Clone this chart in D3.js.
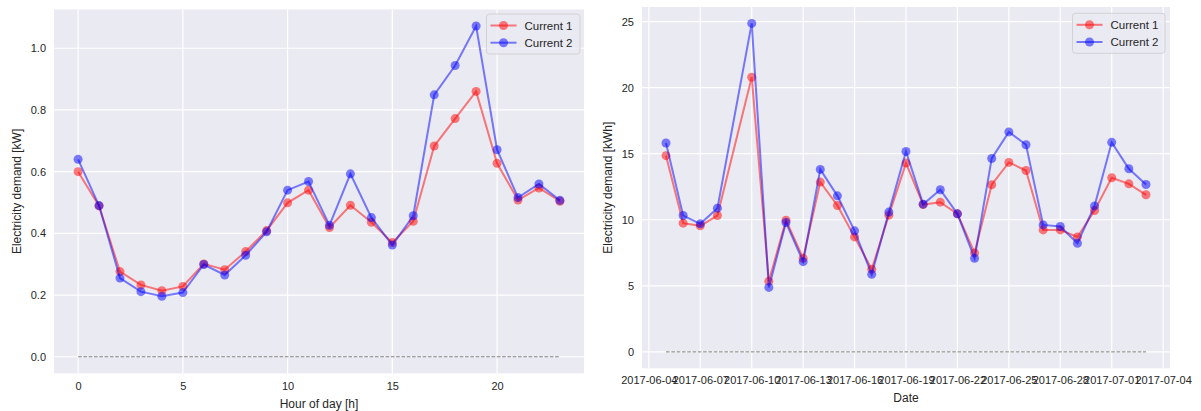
<!DOCTYPE html>
<html>
<head>
<meta charset="utf-8">
<script src="https://cdn.jsdelivr.net/npm/d3@7"></script>
<style>
  body { margin: 0; background: #fff; }
  svg { display: block; font-family: "Liberation Sans", Arial, sans-serif; }
</style>
</head>
<body>
<svg id="chart" width="1201" height="411"></svg>
<script>
// left panel: mean daily profile
var hours = d3.range(24);
var hourCurrent1 = [0.600, 0.489, 0.276, 0.233, 0.214, 0.228, 0.301, 0.282, 0.341, 0.409,
                    0.499, 0.540, 0.419, 0.491, 0.436, 0.370, 0.439, 0.683, 0.772, 0.860,
                    0.627, 0.508, 0.547, 0.504];
var hourCurrent2 = [0.640, 0.490, 0.255, 0.211, 0.196, 0.208, 0.299, 0.265, 0.329, 0.405,
                    0.540, 0.568, 0.426, 0.593, 0.451, 0.362, 0.457, 0.849, 0.944, 1.072,
                    0.671, 0.516, 0.560, 0.507];
var hourTicks = [0, 5, 10, 15, 20];
var kwTicks = [0.0, 0.2, 0.4, 0.6, 0.8, 1.0];

// right panel: daily totals (no row for 2017-06-09)
var days = ["2017-06-05", "2017-06-06", "2017-06-07", "2017-06-08", "2017-06-10",
            "2017-06-11", "2017-06-12", "2017-06-13", "2017-06-14", "2017-06-15",
            "2017-06-16", "2017-06-17", "2017-06-18", "2017-06-19", "2017-06-20",
            "2017-06-21", "2017-06-22", "2017-06-23", "2017-06-24", "2017-06-25",
            "2017-06-26", "2017-06-27", "2017-06-28", "2017-06-29", "2017-06-30",
            "2017-07-01", "2017-07-02", "2017-07-03"];
var dayCurrent1 = [14.85, 9.74, 9.54, 10.32, 20.79, 5.35, 9.97, 7.08, 12.85, 11.08,
                   8.70, 6.25, 10.35, 14.29, 11.15, 11.33, 10.45, 7.49, 12.65, 14.34,
                   13.73, 9.23, 9.23, 8.70, 10.70, 13.18, 12.72, 11.89];
var dayCurrent2 = [15.81, 10.32, 9.69, 10.88, 24.86, 4.88, 9.79, 6.83, 13.81, 11.81,
                   9.16, 5.87, 10.58, 15.17, 11.18, 12.27, 10.45, 7.08, 14.64, 16.65,
                   15.68, 9.61, 9.49, 8.22, 11.05, 15.86, 13.86, 12.67];
var dateTicks = ["2017-06-04", "2017-06-07", "2017-06-10", "2017-06-13", "2017-06-16",
                 "2017-06-19", "2017-06-22", "2017-06-25", "2017-06-28", "2017-07-01",
                 "2017-07-04"];
var kwhTicks = [0, 5, 10, 15, 20, 25];

var seriesNames = ["Current 1", "Current 2"];
var colors = ["#ff0000", "#0000ff"];

var parse = d3.utcParse("%Y-%m-%d");
var fmt = d3.utcFormat("%Y-%m-%d");
var svg = d3.select("#chart");
var textColor = "#262626";

// pad a domain by 5% like matplotlib does
function pad(ext) {
  var m = (ext[1] - ext[0]) * 0.05;
  return [ext[0] - m, ext[1] + m];
}

function panel(opts) {
  var g = svg.append("g");
  var x = opts.x, y = opts.y;
  var x0 = x.range()[0], x1 = x.range()[1];
  var y0 = y.range()[0], y1 = y.range()[1];

  g.append("rect")
    .attr("x", x0).attr("y", y1)
    .attr("width", x1 - x0).attr("height", y0 - y1)
    .attr("fill", "#eaeaf2");

  // grid
  g.selectAll(".vg").data(opts.xTicks).enter().append("line")
    .attr("x1", d => x(d)).attr("x2", d => x(d))
    .attr("y1", y1).attr("y2", y0)
    .attr("stroke", "#fff").attr("stroke-width", 1.2);
  g.selectAll(".hg").data(opts.yTicks).enter().append("line")
    .attr("x1", x0).attr("x2", x1)
    .attr("y1", d => y(d)).attr("y2", d => y(d))
    .attr("stroke", "#fff").attr("stroke-width", 1.2);

  // axes (no spines, no tick marks)
  var xAxis = g.append("g")
    .attr("transform", "translate(0," + y0 + ")")
    .call(d3.axisBottom(x).tickValues(opts.xTicks).tickFormat(opts.xFormat).tickSize(0).tickPadding(opts.xPad));
  var yAxis = g.append("g")
    .attr("transform", "translate(" + x0 + ",0)")
    .call(d3.axisLeft(y).tickValues(opts.yTicks).tickFormat(opts.yFormat).tickSize(0).tickPadding(8));
  [xAxis, yAxis].forEach(function(a) {
    a.select(".domain").remove();
    a.selectAll("text").attr("fill", textColor).style("font-size", "11px")
      .style("font-family", "'Liberation Sans', Arial, sans-serif");
  });

  g.append("text")
    .attr("x", (x0 + x1) / 2).attr("y", opts.xLabelY)
    .attr("text-anchor", "middle").attr("fill", textColor)
    .style("font-size", "12px").text(opts.xLabel);
  g.append("text")
    .attr("transform", "translate(" + opts.yLabelX + "," + (y0 + y1) / 2 + ") rotate(-90)")
    .attr("text-anchor", "middle").attr("fill", textColor)
    .style("font-size", "12px").text(opts.yLabel);

  // zero reference
  g.append("line")
    .attr("x1", x(opts.xs[0])).attr("x2", x(opts.xs[opts.xs.length - 1]))
    .attr("y1", y(0)).attr("y2", y(0))
    .attr("stroke", "#808080").attr("stroke-width", 1)
    .attr("stroke-dasharray", "3.7,1.6");

  var line = d3.line().x((d, i) => x(opts.xs[i])).y(d => y(d));
  opts.series.forEach(function(vals, k) {
    g.append("path").datum(vals)
      .attr("d", line).attr("fill", "none")
      .attr("stroke", colors[k]).attr("stroke-width", 2)
      .attr("stroke-opacity", 0.5);
    g.selectAll(".pt" + k).data(vals).enter().append("circle")
      .attr("cx", (d, i) => x(opts.xs[i])).attr("cy", d => y(d))
      .attr("r", 4.5).attr("fill", colors[k]).attr("fill-opacity", 0.5);
  });

  // legend, upper right
  var L = opts.legend;
  var lx = x1 - L.inset - L.w;
  g.append("rect")
    .attr("x", lx).attr("y", L.y).attr("width", L.w).attr("height", L.h)
    .attr("rx", 3)
    .attr("fill", "#eaeaf2").attr("fill-opacity", 0.8)
    .attr("stroke", "#cccccc").attr("stroke-opacity", 0.8);
  seriesNames.forEach(function(name, k) {
    var cy = L.y + 11.5 + k * 17.2;
    g.append("line")
      .attr("x1", lx + 4).attr("x2", lx + 30)
      .attr("y1", cy).attr("y2", cy)
      .attr("stroke", colors[k]).attr("stroke-width", 2).attr("stroke-opacity", 0.5);
    g.append("circle")
      .attr("cx", lx + 17).attr("cy", cy).attr("r", 4.5)
      .attr("fill", colors[k]).attr("fill-opacity", 0.5);
    g.append("text")
      .attr("x", lx + 38).attr("y", cy).attr("dy", "0.35em")
      .attr("fill", textColor).style("font-size", "11.5px").text(name);
  });
}

var allHour = hourCurrent1.concat(hourCurrent2, [0]);
panel({
  x: d3.scaleLinear().domain(pad(d3.extent(hours))).range([54, 584]),
  y: d3.scaleLinear().domain(pad(d3.extent(allHour))).range([373.3, 9.5]),
  xs: hours,
  series: [hourCurrent1, hourCurrent2],
  xTicks: hourTicks, xFormat: d3.format("d"), xPad: 9,
  yTicks: kwTicks, yFormat: d3.format(".1f"),
  xLabel: "Hour of day [h]", xLabelY: 408,
  yLabel: "Electricity demand [kW]", yLabelX: 21,
  legend: { inset: 4, y: 14, w: 93.5, h: 40 }
});

var dayDates = days.map(parse);
var allDay = dayCurrent1.concat(dayCurrent2, [0]);
var dExt = d3.extent(dayDates);
var dPad = (dExt[1] - dExt[0]) * 0.05;
panel({
  x: d3.scaleUtc().domain([new Date(+dExt[0] - dPad), new Date(+dExt[1] + dPad)]).range([642, 1170]),
  y: d3.scaleLinear().domain(pad(d3.extent(allDay))).range([368.3, 7]),
  xs: dayDates,
  series: [dayCurrent1, dayCurrent2],
  xTicks: dateTicks.map(parse), xFormat: fmt, xPad: 8,
  yTicks: kwhTicks, yFormat: d3.format("d"),
  xLabel: "Date", xLabelY: 402,
  yLabel: "Electricity demand [kWh]", yLabelX: 612,
  legend: { inset: 5, y: 13.3, w: 92.5, h: 40 }
});
</script>
</body>
</html>
